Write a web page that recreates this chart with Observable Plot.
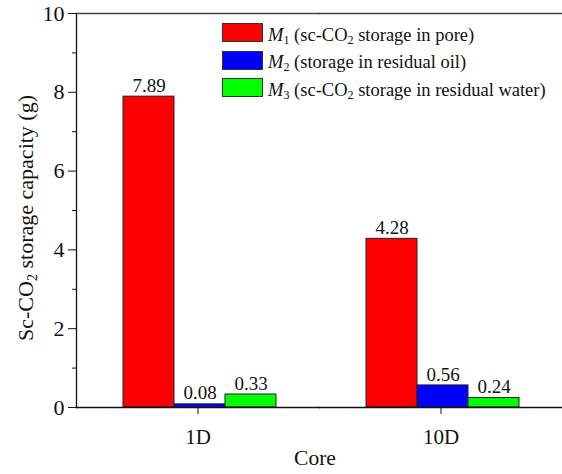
<!DOCTYPE html>
<html><head><meta charset="utf-8">
<script src="https://cdn.jsdelivr.net/npm/d3@7"></script>
<script src="https://cdn.jsdelivr.net/npm/@observablehq/plot@0.6"></script>
<style>
body{margin:0;background:#fff;}
#wrap{position:relative;width:562px;height:474px;font-family:"Liberation Serif",serif;color:#111;overflow:hidden;}
#wrap svg text{font-family:"Liberation Serif",serif !important;}
.legend{position:absolute;left:222px;top:19px;font-size:18.5px;line-height:1;font-family:"Liberation Serif",serif;}
.row{display:flex;align-items:center;height:27.5px;}
.row .t{position:relative;top:2px;white-space:nowrap;}
.sw{width:41px;height:19px;border:1px solid #333;box-sizing:border-box;margin-right:5px;flex:none;}
.row sub{font-size:0.65em;vertical-align:-0.25em;line-height:0;}
.ylab{position:absolute;left:26px;top:218px;transform:translate(-50%,-50%) rotate(-90deg);white-space:nowrap;font-size:22px;}
.ylab sub{font-size:0.65em;vertical-align:-0.25em;line-height:0;}
.xlab{position:absolute;left:315px;top:458px;transform:translate(-50%,-50%);font-size:21.5px;white-space:nowrap;}
</style>
</head><body>
<div id="wrap"></div>
<script>
const cores = ["1D", "10D"];
const seriesKeys = ["M1", "M2", "M3"];
const M1 = [7.89, 4.28];
const M2 = [0.08, 0.56];
const M3 = [0.33, 0.24];
const seriesColors = ["#ff0000", "#0000ff", "#00ff00"];
const legendLabels = [
  "<i>M</i><sub>1</sub> (sc-CO<sub>2</sub> storage in pore)",
  "<i>M</i><sub>2</sub> (storage in residual oil)",
  "<i>M</i><sub>3</sub> (sc-CO<sub>2</sub> storage in residual water)"
];
const yMajor = [0, 2, 4, 6, 8, 10];
const yMinor = [1, 3, 5, 7, 9];
const yLabel = "Sc-CO<sub>2</sub> storage capacity (g)";
const xLabel = "Core";

const values = [M1, M2, M3];
const data = cores.flatMap((c, i) => seriesKeys.map((s, j) => ({core: c, s, v: values[j][i]})));

const chart = Plot.plot({
  width: 562, height: 474,
  marginLeft: 76, marginRight: 0, marginTop: 13, marginBottom: 67,
  style: {fontFamily: "Liberation Serif", fontSize: "20px", color: "#111", background: "white", overflow: "visible"},
  fx: {domain: cores, paddingInner: 0, paddingOuter: 0},
  x: {domain: seriesKeys, paddingInner: 0, paddingOuter: 0.85, align: 0.52, axis: null},
  y: {domain: [0, 10], axis: null},
  color: {domain: seriesKeys, range: seriesColors},
  marks: [
    Plot.barY(data, {fx: "core", x: "s", y: "v", fill: "s", stroke: "#222", strokeWidth: 1}),
    Plot.text(data, {fx: "core", x: "s", y: "v", text: d => d.v.toFixed(2), dy: -11, fontSize: 19, fill: "#111"}),
    Plot.axisY(yMajor, {tickSize: 8, tickPadding: 4, fontSize: 22, label: null}),
    Plot.axisY(yMinor, {tickSize: 4, text: null, label: null}),
    Plot.axisFx({anchor: "bottom", tickSize: 7, tickPadding: 15, fontSize: 21, label: null}),
    Plot.frame({anchor: "top", stroke: "#444", strokeWidth: 1.5}),
    Plot.frame({anchor: "bottom", stroke: "#111", strokeWidth: 1.3}),
    Plot.frame({anchor: "left", facetAnchor: "left", stroke: "#111", strokeWidth: 1.3})
  ]
});

const wrap = document.getElementById("wrap");
wrap.appendChild(chart);

const leg = document.createElement("div");
leg.className = "legend";
legendLabels.forEach((t, i) => {
  const r = document.createElement("div");
  r.className = "row";
  r.innerHTML = `<span class="sw" style="background:${seriesColors[i]}"></span><span class="t">${t}</span>`;
  leg.appendChild(r);
});
wrap.appendChild(leg);

const yl = document.createElement("div");
yl.className = "ylab";
yl.innerHTML = yLabel;
wrap.appendChild(yl);

const xl = document.createElement("div");
xl.className = "xlab";
xl.textContent = xLabel;
wrap.appendChild(xl);
</script>
</body></html>
